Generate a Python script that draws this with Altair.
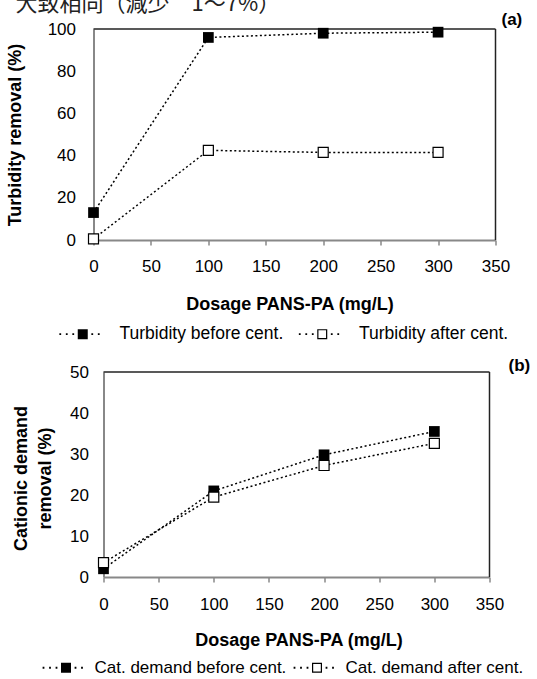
import altair as alt
import pandas as pd

# ---------------- data ----------------
dose = [0, 100, 200, 300]
turb_before = [13, 96, 98, 98.5]
turb_after = [0.5, 42.5, 41.5, 41.5]
cat_before = [2, 21, 29.8, 35.5]
cat_after = [3.5, 19.5, 27.2, 32.6]

turb_labels = ["Turbidity before cent.", "Turbidity after cent."]
cat_labels = ["Cat. demand before cent.", "Cat. demand after cent."]
x_ticks = [0, 50, 100, 150, 200, 250, 300, 350]
turb_ticks = [0, 20, 40, 60, 80, 100]
cat_ticks = [0, 10, 20, 30, 40, 50]
header_text = "大致相同（減少　1～7%）"

FONT = "Liberation Sans"


def long_df(before, after, labels):
    rows = []
    for d, v in zip(dose, before):
        rows.append({"dose": d, "value": v, "series": labels[0]})
    for d, v in zip(dose, after):
        rows.append({"dose": d, "value": v, "series": labels[1]})
    return pd.DataFrame(rows)


def dots_path(left_dots, right_dots, half=0.18):
    parts = []
    for c in left_dots + right_dots:
        parts.append(
            f"M{c - half:.2f},{-half:.2f}H{c + half:.2f}V{half:.2f}H{c - half:.2f}Z"
        )
    return "".join(parts)


# legend glyphs: dotted line with a marker square (1 unit = half the square side)
DOTS = dots_path([-4.5, -3.2, -1.9], [1.9, 3.2])
PATH_SOLID = "M-1,-1H1V1H-1Z" + DOTS
PATH_OPEN = "M-1,-1H1V1H-1Z" + "M-0.76,-0.76V0.76H0.76V-0.76Z" + DOTS
ONE = alt.Data(values=[{}])


def panel(before, after, labels, yticks, ymax, w, h, shift, ytitle, ytitle_x,
          ytitle_y, xtitle_x, xtitle_y, xlabel_pad, ylabel_pad, legend_x,
          legend_y, label_offset, col_pad, legend_font, tag, tag_x, tag_y,
          extra=None):
    df = long_df(before, after, labels)
    x = alt.X(
        "dose:Q",
        scale=alt.Scale(domain=[0, 350], nice=False, zero=False, range=[shift, w]),
        axis=alt.Axis(
            values=x_ticks, title="Dosage PANS-PA (mg/L)", titleX=xtitle_x,
            titleY=xtitle_y, titleBaseline="top", titleAlign="center",
            labelPadding=xlabel_pad, tickSize=5,
            tickColor="#888888", tickWidth=1.5, domainColor="#888888",
            domainWidth=2, grid=False, labelFont=FONT, labelFontSize=17,
            labelColor="black", titleFont=FONT, titleFontSize=18,
            titleFontWeight="bold", titleColor="black", labelFlush=False,
        ),
    )
    y = alt.Y(
        "value:Q",
        scale=alt.Scale(domain=[0, ymax], nice=False, zero=False),
        axis=alt.Axis(
            values=yticks, title=ytitle, titleX=ytitle_x, titleY=ytitle_y,
            titleBaseline="middle", titleAlign="center", titleLineHeight=24,
            ticks=False, tickSize=0, labelPadding=ylabel_pad, offset=-shift,
            domainColor="#888888", domainWidth=2, grid=False, labelFont=FONT,
            labelFontSize=17, labelColor="black", titleFont=FONT,
            titleFontSize=18, titleFontWeight="bold", titleColor="black",
            labelFlush=False,
        ),
    )
    base = alt.Chart(df)
    frame_top = alt.Chart(ONE).mark_rule(color="#222222", strokeWidth=1.5).encode(
        x=alt.value(shift), x2=alt.value(w), y=alt.value(0)
    )
    frame_right = alt.Chart(ONE).mark_rule(color="#222222", strokeWidth=1.5).encode(
        x=alt.value(w), y=alt.value(0), y2=alt.value(h)
    )
    line = base.mark_line(color="black", strokeDash=[2, 2.5], strokeWidth=1.5).encode(
        x=x, y=y, detail="series:N"
    )
    pb = base.transform_filter(alt.datum.series == labels[0]).mark_point(
        shape="square", filled=True, color="black", size=115, opacity=1
    ).encode(x=x, y=y)
    pa = base.transform_filter(alt.datum.series == labels[1]).mark_point(
        shape="square", filled=True, fill="white", stroke="black", strokeWidth=1.2,
        size=100, opacity=1
    ).encode(x=x, y=y)
    leg = alt.Legend(
        title=None, orient="none", legendX=legend_x, legendY=legend_y,
        direction="horizontal", columns=2, symbolSize=100,
        symbolFillColor="black", symbolStrokeWidth=0, symbolOpacity=1,
        labelFont=FONT, labelFontSize=legend_font, labelColor="black",
        labelOffset=label_offset, columnPadding=col_pad, padding=0,
        labelLimit=400,
    )
    hidden = base.mark_point(
        opacity=0, filled=True, size=100, color="black"
    ).encode(
        x=x, y=y,
        shape=alt.Shape(
            "series:N",
            scale=alt.Scale(domain=labels, range=[PATH_SOLID, PATH_OPEN]),
            legend=leg,
        ),
    )
    tag_layer = alt.Chart(ONE).mark_text(
        text=tag, font=FONT, fontSize=17, fontWeight="bold", align="left",
        baseline="middle", color="black"
    ).encode(x=alt.value(tag_x), y=alt.value(tag_y))
    layers = [frame_top, frame_right, line, pb, pa, hidden, tag_layer]
    if extra is not None:
        layers.append(extra)
    return alt.layer(*layers).properties(width=w, height=h)


header = alt.Chart(ONE).mark_text(
    text=header_text, font="Noto Sans CJK TC", fontSize=22, align="left",
    baseline="alphabetic", color="#222222"
).encode(x=alt.value(-78), y=alt.value(-18))

pa_chart = panel(
    turb_before, turb_after, turb_labels, turb_ticks, 100, 402, 211, 0,
    "Turbidity removal (%)", -78, 105.5, 196, 55, 13.5, 18,
    -19.5, 296, 28, 14.5, 17.5, "(a)", 408, -9, extra=header,
)
pb_chart = panel(
    cat_before, cat_after, cat_labels, cat_ticks, 50, 396, 205, 10,
    ["Cationic demand", "removal (%)"], -82, 106, 205, 54, 14, 15,
    -36, 287, 20, 7, 17, "(b)", 415, -6,
)

chart = alt.concat(pa_chart, pb_chart, columns=1, spacing=12).properties(
    padding={"left": 5.5, "top": -8, "right": 0, "bottom": 0},
).resolve_scale(
    shape="independent"
).resolve_legend(
    shape="independent"
).configure_view(
    stroke="transparent"
)

chart.save("out.html", embed_options={"renderer": "svg", "actions": False})
